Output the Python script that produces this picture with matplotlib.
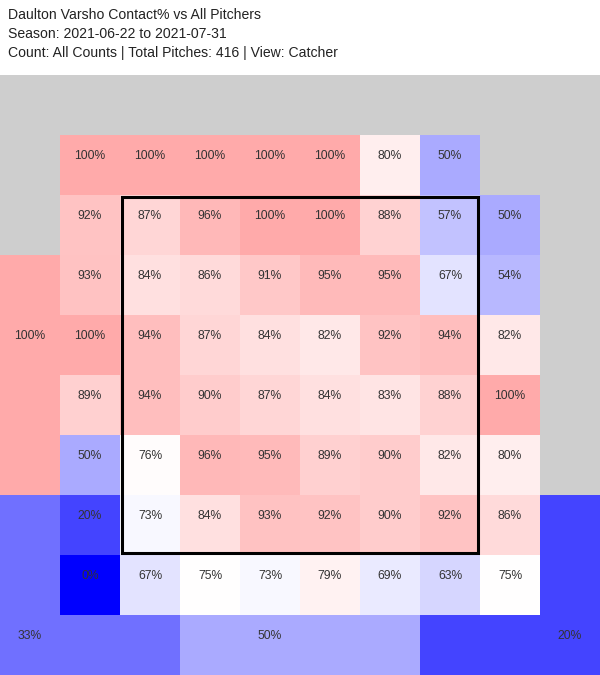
import numpy as np
import matplotlib.pyplot as plt
from matplotlib.colors import LinearSegmentedColormap
from matplotlib.patches import Rectangle

plt.rcParams['font.family'] = ['Liberation Sans', 'DejaVu Sans']

title_lines = [
    'Daulton Varsho Contact% vs All Pitchers',
    'Season: 2021-06-22 to 2021-07-31',
    'Count: All Counts | Total Pitches: 416 | View: Catcher',
]

# inner zones, rows top->bottom, cols left->right (None = no pitches)
inner_vals = [
    [100, 100, 100, 100, 100, 80, 50, None],
    [92, 87, 96, 100, 100, 88, 57, 50],
    [93, 84, 86, 91, 95, 95, 67, 54],
    [100, 94, 87, 84, 82, 92, 94, 82],
    [89, 94, 90, 87, 84, 83, 88, 100],
    [50, 76, 96, 95, 89, 90, 82, 80],
    [20, 73, 84, 93, 92, 90, 92, 86],
    [0, 67, 75, 73, 79, 69, 63, 75],
]

# outer zones: name -> value
outer_vals = {'left': 100, 'bottom_left': 33, 'bottom': 50, 'bottom_right': 20}

# which cells of the 10x10 layout each outer zone covers, and where its label goes
outer_cells = {
    'left': ([(r, 0) for r in range(3, 7)], (4, 0)),
    'bottom_left': ([(r, 0) for r in range(7, 10)] + [(9, 1), (9, 2)], (9, 0)),
    'bottom': ([(9, c) for c in range(3, 7)], (9, 4)),
    'bottom_right': ([(r, 9) for r in range(7, 10)] + [(9, 7), (9, 8)], (9, 9)),
}

grid = np.full((10, 10), np.nan)
for i, row in enumerate(inner_vals):
    for j, v in enumerate(row):
        if v is not None:
            grid[i + 1, j + 1] = v
for name, (cells, _) in outer_cells.items():
    for r, c in cells:
        grid[r, c] = outer_vals[name]

cmap = LinearSegmentedColormap.from_list('bwr_c', ['#0000ff', '#ffffff', '#ff0000'])
cmap.set_bad('#cecece')

fig = plt.figure(figsize=(6, 6.75), dpi=100)
ax = fig.add_axes([0, 0, 1, 600 / 675])
ax.imshow(np.ma.masked_invalid(grid), cmap=cmap, vmin=0, vmax=150,
          extent=(0, 10, 10, 0), interpolation='nearest', aspect='auto')
ax.set_xlim(0, 10)
ax.set_ylim(10, 0)
ax.axis('off')

# labels sit in the upper part of each cell
dy = 0.345
for i, row in enumerate(inner_vals):
    for j, v in enumerate(row):
        if v is not None:
            ax.text(j + 1.5, i + 1 + dy, f'{v}%', ha='center', va='center',
                    fontsize=8.7, color='#333333')
for name, (_, (r, c)) in outer_cells.items():
    ax.text(c + 0.5, r + dy, f'{outer_vals[name]}%', ha='center', va='center',
            fontsize=8.7, color='#333333')

# strike zone
ax.add_patch(Rectangle((2.025, 2.025), 5.95, 5.935, fill=False, lw=2.2,
                       edgecolor='black'))

for k, line in enumerate(title_lines):
    fig.text(8 / 600, 1 - (15 + 19 * k) / 675, line, ha='left', va='center',
             fontsize=10.1, color='#222222')

fig.savefig('out.png', dpi=100)
